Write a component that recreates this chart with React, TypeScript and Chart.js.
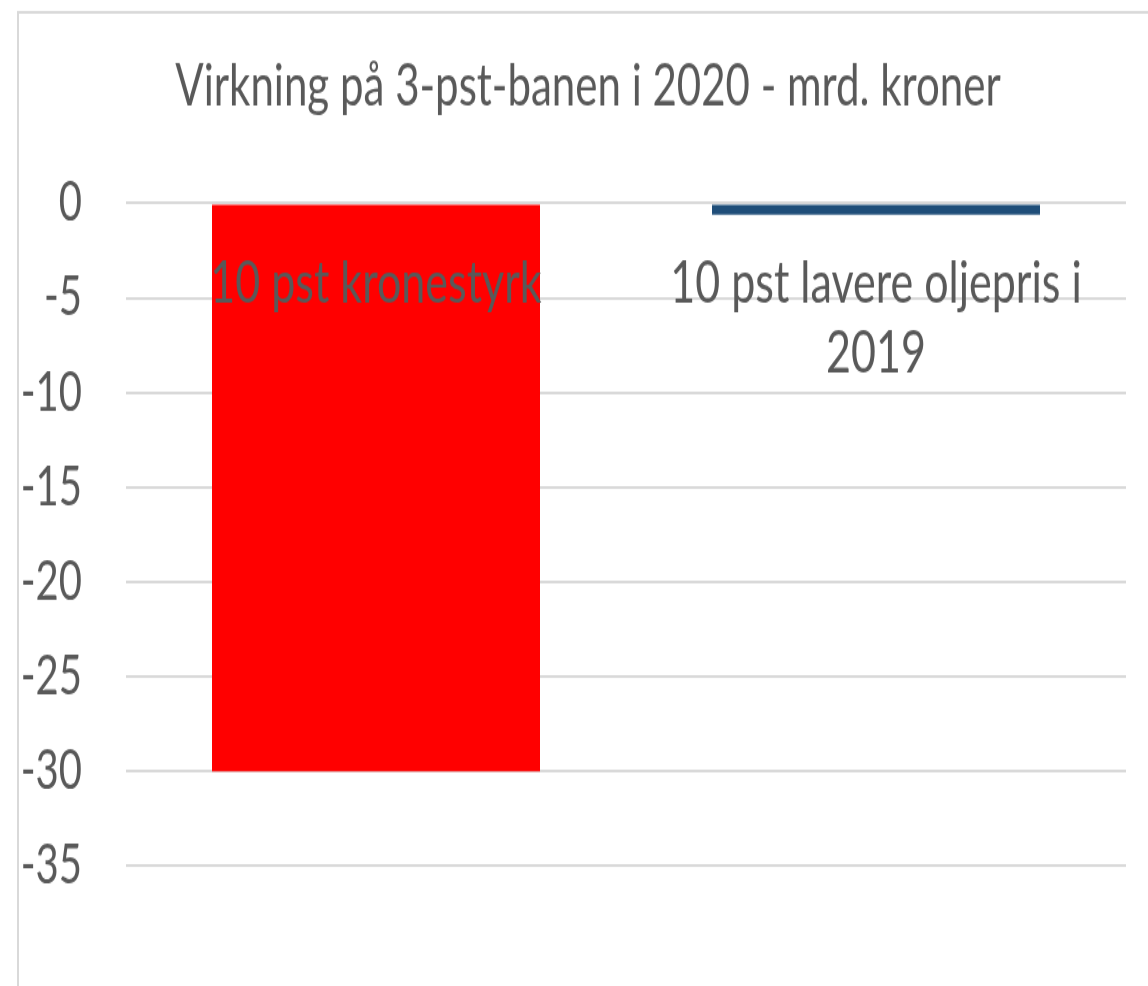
import React, { useEffect, useRef } from "react";
import { Chart, registerables } from "chart.js";

Chart.register(...registerables);

// ---- data ----
const categories: (string | string[])[] = [
  "10 pst kronestyrk",
  ["10 pst lavere oljepris i", "2019"],
];
const values: number[] = [-30, -0.6];
const barColors: string[] = ["#FF0000", "#1F4E79"];
const chartTitle = "Virkning på 3-pst-banen i 2020 - mrd. kroner";
const yMin = -35;
const yMax = 0;
const yStep = 5;

// ---- layout (the reference is a vertically stretched, right-cropped picture) ----
const W = 1148;
const H = 986;
const CANVAS_W = 1176;
const INTERNAL_H = 720;
const TEXT = "#595959";
const GRID = "#d9d9d9";
const FONT = "Lato";

export default function App() {
  const ref = useRef<HTMLCanvasElement>(null);

  useEffect(() => {
    const canvas = ref.current;
    if (!canvas) return;

    const framePlugin = {
      id: "frame",
      beforeDraw(chart: any) {
        const ctx = chart.ctx;
        ctx.save();
        ctx.fillStyle = "#ffffff";
        ctx.fillRect(0, 0, chart.width, chart.height);
        ctx.strokeStyle = GRID;
        ctx.lineWidth = 2;
        ctx.strokeRect(18, 9, 1300, 1000);
        ctx.restore();
      },
    };

    const chart = new Chart(canvas, {
      type: "bar",
      data: {
        labels: categories,
        datasets: [
          {
            data: values,
            backgroundColor: barColors,
            borderWidth: 0,
            barPercentage: 0.656,
            categoryPercentage: 1,
          },
        ],
      },
      options: {
        responsive: false,
        animation: false,
        devicePixelRatio: 1,
        layout: { padding: { left: 0, right: 0, top: 0, bottom: 87.6 } },
        plugins: {
          legend: { display: false },
          tooltip: { enabled: false },
          title: {
            display: true,
            text: chartTitle,
            color: TEXT,
            font: { family: FONT, size: 42, weight: "normal", lineHeight: 1.2 },
            padding: { top: 38, bottom: 60 },
          },
        },
        scales: {
          x: {
            position: { y: 0 } as any,
            grid: { display: false },
            border: { display: false },
            ticks: {
              z: 1,
              color: TEXT,
              font: { family: FONT, size: 43, lineHeight: "51px" } as any,
              padding: 25,
              autoSkip: false,
              maxRotation: 0,
              minRotation: 0,
            },
            afterFit: (s: any) => {
              s.height = 0;
            },
          },
          y: {
            min: yMin,
            max: yMax,
            ticks: {
              stepSize: yStep,
              color: TEXT,
              font: { family: FONT, size: 40 },
              padding: 44,
            },
            grid: { color: GRID, lineWidth: 2, drawTicks: false },
            border: { display: false },
            afterFit: (s: any) => {
              s.width = 126;
            },
          },
          // empty right-hand space of the plot frame (no marks)
          yRight: {
            position: "right",
            min: yMin,
            max: yMax,
            grid: { display: false },
            border: { display: false },
            ticks: { display: false },
            afterFit: (s: any) => {
              s.width = 50;
            },
          },
        },
      },
      plugins: [framePlugin],
    } as any);

    return () => chart.destroy();
  }, []);

  return (
    <div
      style={{
        position: "absolute",
        left: 0,
        top: 0,
        width: W,
        height: H,
        overflow: "hidden",
      }}
    >
      <canvas
        ref={ref}
        width={CANVAS_W}
        height={INTERNAL_H}
        style={{ width: `${CANVAS_W}px`, height: `${H}px`, display: "block" }}
      />
    </div>
  );
}
